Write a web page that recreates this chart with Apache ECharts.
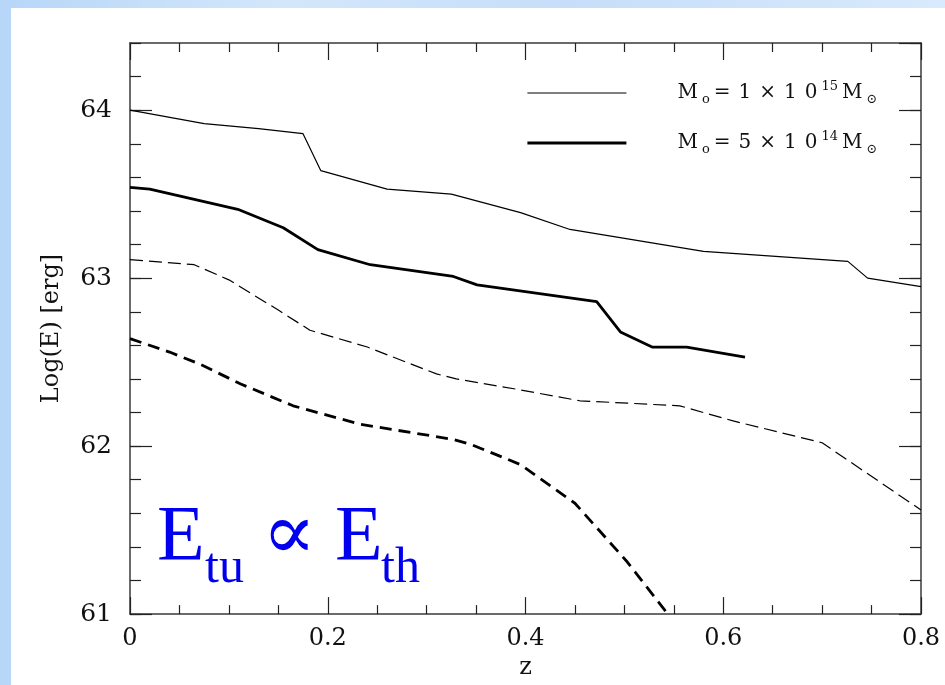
<!DOCTYPE html>
<html>
<head>
<meta charset="utf-8">
<script src="https://cdn.jsdelivr.net/npm/echarts@6/dist/echarts.min.js"></script>
<style>
  html, body { margin: 0; padding: 0; }
  body {
    width: 945px; height: 685px; position: relative; overflow: hidden;
    background: linear-gradient(90deg, #b7d6f8 0%, #d3e7fb 30%, #c6def9 60%, #d8eafc 100%);
  }
  #chart {
    position: absolute; left: 11px; top: 8px;
    width: 934px; height: 677px; background: #fff;
  }
</style>
</head>
<body>
<div id="chart"></div>
<script>
// redshift and log energy
var thinSolid = [
  [0, 64.0], [0.075, 63.92], [0.13, 63.89], [0.175, 63.86], [0.193, 63.64],
  [0.26, 63.53], [0.325, 63.5], [0.395, 63.39], [0.445, 63.29], [0.58, 63.16],
  [0.726, 63.1], [0.746, 63.0], [0.8, 62.95]
];
var thickSolid = [
  [0, 63.54], [0.02, 63.53], [0.109, 63.41], [0.155, 63.3], [0.19, 63.17],
  [0.243, 63.08], [0.327, 63.01], [0.351, 62.96], [0.472, 62.86], [0.496, 62.68],
  [0.528, 62.59], [0.563, 62.59], [0.622, 62.53]
];
var thinDashed = [
  [0, 63.11], [0.065, 63.08], [0.1, 62.99], [0.15, 62.81], [0.182, 62.69],
  [0.24, 62.59], [0.31, 62.43], [0.33, 62.4], [0.39, 62.34], [0.455, 62.27],
  [0.556, 62.24], [0.61, 62.15], [0.7, 62.02], [0.8, 61.62]
];
var thickDashed = [
  [0, 62.64], [0.04, 62.56], [0.07, 62.49], [0.112, 62.37], [0.165, 62.24],
  [0.233, 62.13], [0.327, 62.04], [0.345, 62.01], [0.395, 61.89], [0.45, 61.66],
  [0.503, 61.31], [0.544, 61.0]
];
var legendNames = ["M1e15", "M5e14"];
var legendMant = ["1", "5"];
var legendExp = ["15", "14"];

var serif = "DejaVu Serif";
var frame = "#3a3a3a";

function legendText(name) {
  var i = legendNames.indexOf(name);
  return "{g| }{m|M}{o|o}{m|=}{m|" + legendMant[i] + "}{m|×}{m|1}{m|0}{s|" +
    legendExp[i] + "}{m|M}{o|⊙}";
}

function xAx(pos, labels) {
  return {
    type: "value", position: pos, min: 0, max: 0.8, interval: 0.2,
    axisLine: { show: true, onZero: false, lineStyle: { color: frame, width: 1.5 } },
    axisTick: { show: true, inside: true, length: 17, lineStyle: { color: "#222", width: 1.2 } },
    minorTick: { show: true, splitNumber: 4, length: 9, lineStyle: { color: "#222", width: 1.2 } },
    axisLabel: { show: labels, color: "#111", fontFamily: serif, fontSize: 24, margin: 13 },
    splitLine: { show: false },
    name: labels ? "z" : "", nameLocation: "middle", nameGap: 38,
    nameTextStyle: { color: "#111", fontFamily: serif, fontSize: 24 }
  };
}
function yAx(pos, step, len, labels, line) {
  return {
    type: "value", position: pos, min: 61, max: 64.4, interval: step,
    axisLine: { show: line, onZero: false, lineStyle: { color: frame, width: 1.5 } },
    axisTick: { show: true, inside: true, length: len, lineStyle: { color: "#222", width: 1.2 } },
    axisLabel: { show: labels, showMaxLabel: false, color: "#111", fontFamily: serif, fontSize: 25, margin: 18 },
    splitLine: { show: false },
    name: labels ? "Log(E) [erg]" : "", nameLocation: "middle", nameGap: 66,
    nameTextStyle: { color: "#111", fontFamily: serif, fontSize: 24 }
  };
}

var chart = echarts.init(document.getElementById("chart"));
var blue = "#0000ee";
var eFont = "Liberation Serif, DejaVu Serif, serif";

chart.setOption({
  animation: false,
  grid: { left: 119, right: 24, top: 35, bottom: 66 },
  xAxis: [xAx("bottom", true), xAx("top", false)],
  yAxis: [
    yAx("left", 1, 22, true, true),
    yAx("left", 0.2, 11, false, false),
    yAx("right", 1, 22, false, true),
    yAx("right", 0.2, 11, false, false)
  ],
  legend: {
    data: [
      { name: legendNames[0], lineStyle: { width: 1.2 } },
      { name: legendNames[1], lineStyle: { width: 2.8 } }
    ],
    orient: "vertical", left: 515, top: 72, padding: 0,
    itemWidth: 99, itemHeight: 14, itemGap: 24,
    itemStyle: { opacity: 0 },
    formatter: legendText,
    textStyle: {
      color: "#111",
      rich: {
        g: { width: 42 },
        m: { fontFamily: serif, fontSize: 20, lineHeight: 26, padding: [0, 4, 0, 4], color: "#111" },
        o: { fontFamily: serif, fontSize: 13, lineHeight: 14, verticalAlign: "bottom", color: "#111" },
        s: { fontFamily: serif, fontSize: 13, lineHeight: 14, verticalAlign: "top", color: "#111" }
      }
    }
  },
  series: [
    { name: legendNames[0], type: "line", data: thinSolid, symbol: "none", color: "#000",
      lineStyle: { color: "#000", width: 1.2 } },
    { name: legendNames[1], type: "line", data: thickSolid, symbol: "none", color: "#000",
      lineStyle: { color: "#000", width: 2.8 } },
    { name: "thinDashed", type: "line", data: thinDashed, symbol: "none", color: "#000",
      lineStyle: { color: "#000", width: 1.2, type: [13, 6] } },
    { name: "thickDashed", type: "line", data: thickDashed, symbol: "none", color: "#000",
      lineStyle: { color: "#000", width: 2.8, type: [12, 7] } }
  ],
  graphic: [
    { type: "text", left: 146, top: 492, style: { text: "E", fill: blue, font: "78px " + eFont } },
    { type: "text", left: 194, top: 536, style: { text: "tu", fill: blue, font: "50px " + eFont } },
    { type: "text", left: 251, top: 490, style: { text: "∝", fill: blue, font: "80px " + eFont } },
    { type: "text", left: 324, top: 492, style: { text: "E", fill: blue, font: "78px " + eFont } },
    { type: "text", left: 370, top: 536, style: { text: "th", fill: blue, font: "50px " + eFont } }
  ]
});
</script>
</body>
</html>
